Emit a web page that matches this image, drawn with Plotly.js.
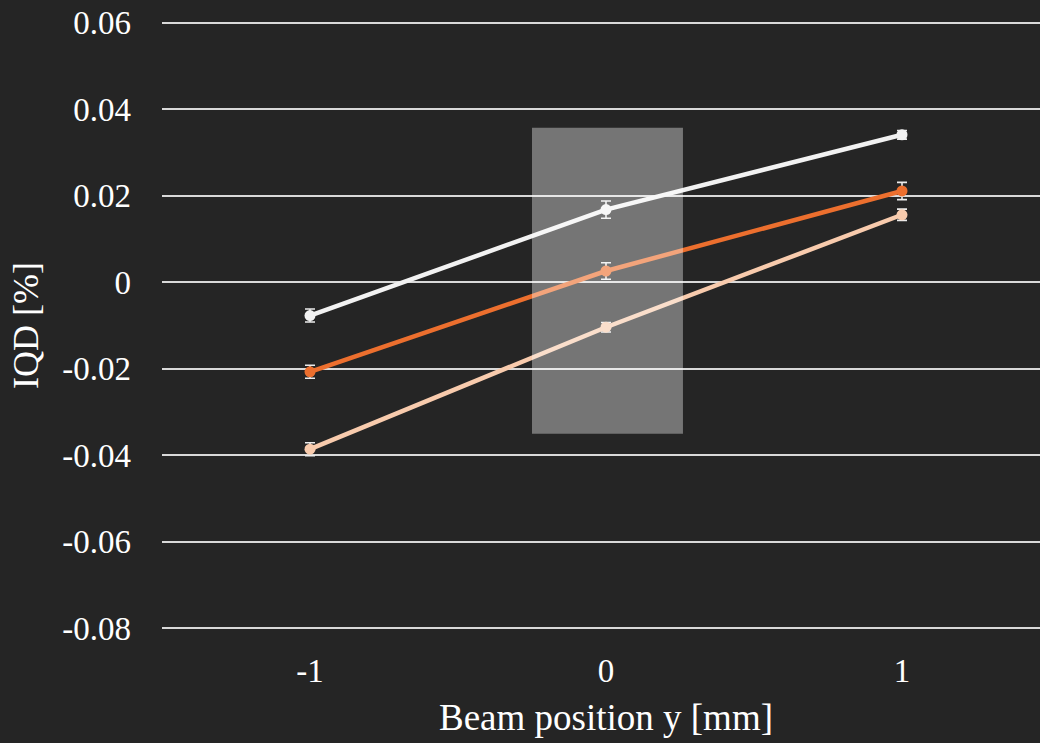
<!DOCTYPE html>
<html>
<head>
<meta charset="utf-8">
<script src="https://cdn.plot.ly/plotly-3.0.1.min.js"></script>
<style>
html,body{margin:0;padding:0;background:#252525;overflow:hidden;}
#chart{width:1050px;height:743px;}
</style>
</head>
<body>
<div id="chart"></div>
<script>
// ---- data ----
const beamPositions = [-1, 0, 1];
const tickValsX = [-1, 0, 1];
const tickTextX = ['-1', '0', '1'];
const tickValsY = [-0.08, -0.06, -0.04, -0.02, 0, 0.02, 0.04, 0.06];
const tickTextY = ['-0.08', '-0.06', '-0.04', '-0.02', '0', '0.02', '0.04', '0.06'];

const iqdWhite  = [-0.0077, 0.0168, 0.0341];
const errWhite  = [0.0015, 0.0020, 0.0010];
const iqdOrange = [-0.0207, 0.0026, 0.0211];
const errOrange = [0.0015, 0.0019, 0.0020];
const iqdPeach  = [-0.0386, -0.0104, 0.0156];
const errPeach  = [0.0015, 0.0011, 0.0013];

const highlightX = [-0.25, 0.26];
const highlightY = [-0.0350, 0.0357];

const seriesNames = ['Series 1', 'Series 2', 'Series 3'];

// ---- styles ----
const colors = ['#f2f2f2', '#ec6f2e', '#f8cbad'];
const errColor = '#ececec';
const serifFamily = '"Liberation Serif", serif';

function makeTrace(y, err, color, name) {
  return {
    x: beamPositions, y: y, name: name, type: 'scatter', mode: 'lines+markers',
    line: {color: color, width: 4.5},
    marker: {color: color, size: 11},
    error_y: {type: 'data', array: err, visible: true, color: errColor, thickness: 1.6, width: 5},
    showlegend: false
  };
}

const traces = [
  makeTrace(iqdWhite, errWhite, colors[0], seriesNames[0]),
  makeTrace(iqdOrange, errOrange, colors[1], seriesNames[1]),
  makeTrace(iqdPeach, errPeach, colors[2], seriesNames[2])
];

const layout = {
  width: 1050, height: 743,
  paper_bgcolor: '#252525', plot_bgcolor: '#252525',
  margin: {l: 162, r: 0, t: 21, b: 113, pad: 0},
  xaxis: {
    range: [-1.5, 1.5], tickvals: tickValsX, ticktext: tickTextX,
    showgrid: false, zeroline: false, showline: false, ticks: '',
    tickfont: {family: serifFamily, size: 33, color: '#ffffff'},
    ticklabelstandoff: 18,
    title: {text: 'Beam position y [mm]', font: {family: serifFamily, size: 37, color: '#ffffff'}, standoff: 16},
    automargin: false
  },
  yaxis: {
    range: [-0.0804, 0.0604], tickvals: tickValsY, ticktext: tickTextY,
    showgrid: true, gridcolor: '#d9d9d9', gridwidth: 2,
    zeroline: false, showline: false, ticks: '',
    tickfont: {family: serifFamily, size: 33, color: '#ffffff'},
    ticklabelstandoff: 30,
    title: {text: 'IQD [%]', font: {family: serifFamily, size: 36, color: '#ffffff'}, standoff: 12},
    automargin: false
  },
  shapes: [{
    type: 'rect', xref: 'x', yref: 'y',
    x0: highlightX[0], x1: highlightX[1], y0: highlightY[0], y1: highlightY[1],
    fillcolor: '#ffffff', opacity: 0.37, line: {width: 0}, layer: 'above'
  }]
};

Plotly.newPlot('chart', traces, layout, {displayModeBar: false, staticPlot: true});
</script>
</body>
</html>
